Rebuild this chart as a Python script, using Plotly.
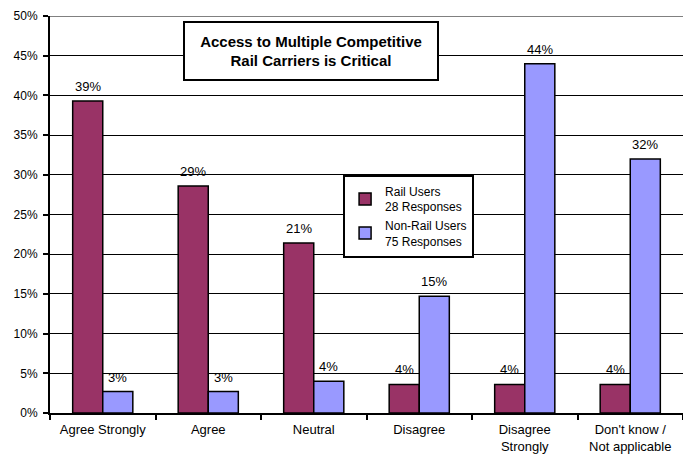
import plotly.graph_objects as go

# Survey answers and share of responses per group
categories = ["Agree Strongly", "Agree", "Neutral", "Disagree",
              "Disagree<br>Strongly", "Don't know /<br>Not applicable"]
rail_users = [0.393, 0.286, 0.214, 0.036, 0.036, 0.036]
non_rail_users = [0.027, 0.027, 0.040, 0.147, 0.440, 0.320]
series_names = ["Rail Users<br>28 Responses", "Non-Rail Users<br>75 Responses"]
series_colors = ["#993366", "#9999FF"]
chart_title = "<b>Access to Multiple Competitive<br>Rail Carriers is Critical</b>"

FONT = "Liberation Sans, Arial, sans-serif"
BAR_HALF = 15  # horizontal offset (px) of each bar centre within its group

fig = go.Figure()
for name, vals, color in zip(series_names, [rail_users, non_rail_users], series_colors):
    fig.add_trace(go.Bar(
        x=categories, y=vals, name=name,
        marker=dict(color=color, line=dict(color="black", width=1.5)),
    ))

# Percentage labels above each bar
for side, vals in zip([-1, 1], [rail_users, non_rail_users]):
    for cat, v in zip(categories, vals):
        fig.add_annotation(
            x=cat, y=v, xref="x", yref="y", text=f"{v:.0%}",
            xshift=side * BAR_HALF, yshift=5, yanchor="bottom", xanchor="center",
            showarrow=False, font=dict(size=13, family=FONT, color="black"),
        )

fig.update_layout(
    width=683, height=456,
    margin=dict(l=50, r=0, t=16, b=43),
    paper_bgcolor="white", plot_bgcolor="white",
    barmode="group", bargap=0.43, bargroupgap=0,
    font=dict(family=FONT, color="black"),
    showlegend=True,
    legend=dict(
        x=0.463, y=0.60, xanchor="left", yanchor="top",
        bgcolor="white", bordercolor="black", borderwidth=2,
        font=dict(size=12, family=FONT, color="black"),
        itemwidth=30, tracegroupgap=0,
    ),
)

fig.update_xaxes(
    automargin=False,
    showline=True, linecolor="black", linewidth=2,
    ticks="outside", tickson="boundaries", ticklen=5, tickwidth=2, tickcolor="black",
    tickfont=dict(size=13, family=FONT, color="black"),
    ticklabelstandoff=3,
    showgrid=False,
)
fig.update_yaxes(
    automargin=False,
    range=[0, 0.5], dtick=0.05, tickformat=".0%",
    showline=True, linecolor="black", linewidth=2,
    ticks="outside", ticklen=5, tickwidth=2, tickcolor="black",
    tickfont=dict(size=12, family=FONT, color="black"),
    ticklabelstandoff=3,
    showgrid=True, gridcolor="black", gridwidth=1, zeroline=False,
)

# Top border of the value range drawn in grey
fig.add_shape(type="line", xref="paper", yref="y", x0=0, x1=1, y0=0.5, y1=0.5,
              line=dict(color="#808080", width=2), layer="above")

fig.add_annotation(
    text=chart_title, xref="paper", yref="paper", x=0.413, y=0.913,
    xanchor="center", yanchor="middle", showarrow=False,
    font=dict(size=15, family=FONT, color="black"),
    bgcolor="white", bordercolor="black", borderwidth=2,
    width=248, height=52, borderpad=2,
)

fig.write_html("out.html")
